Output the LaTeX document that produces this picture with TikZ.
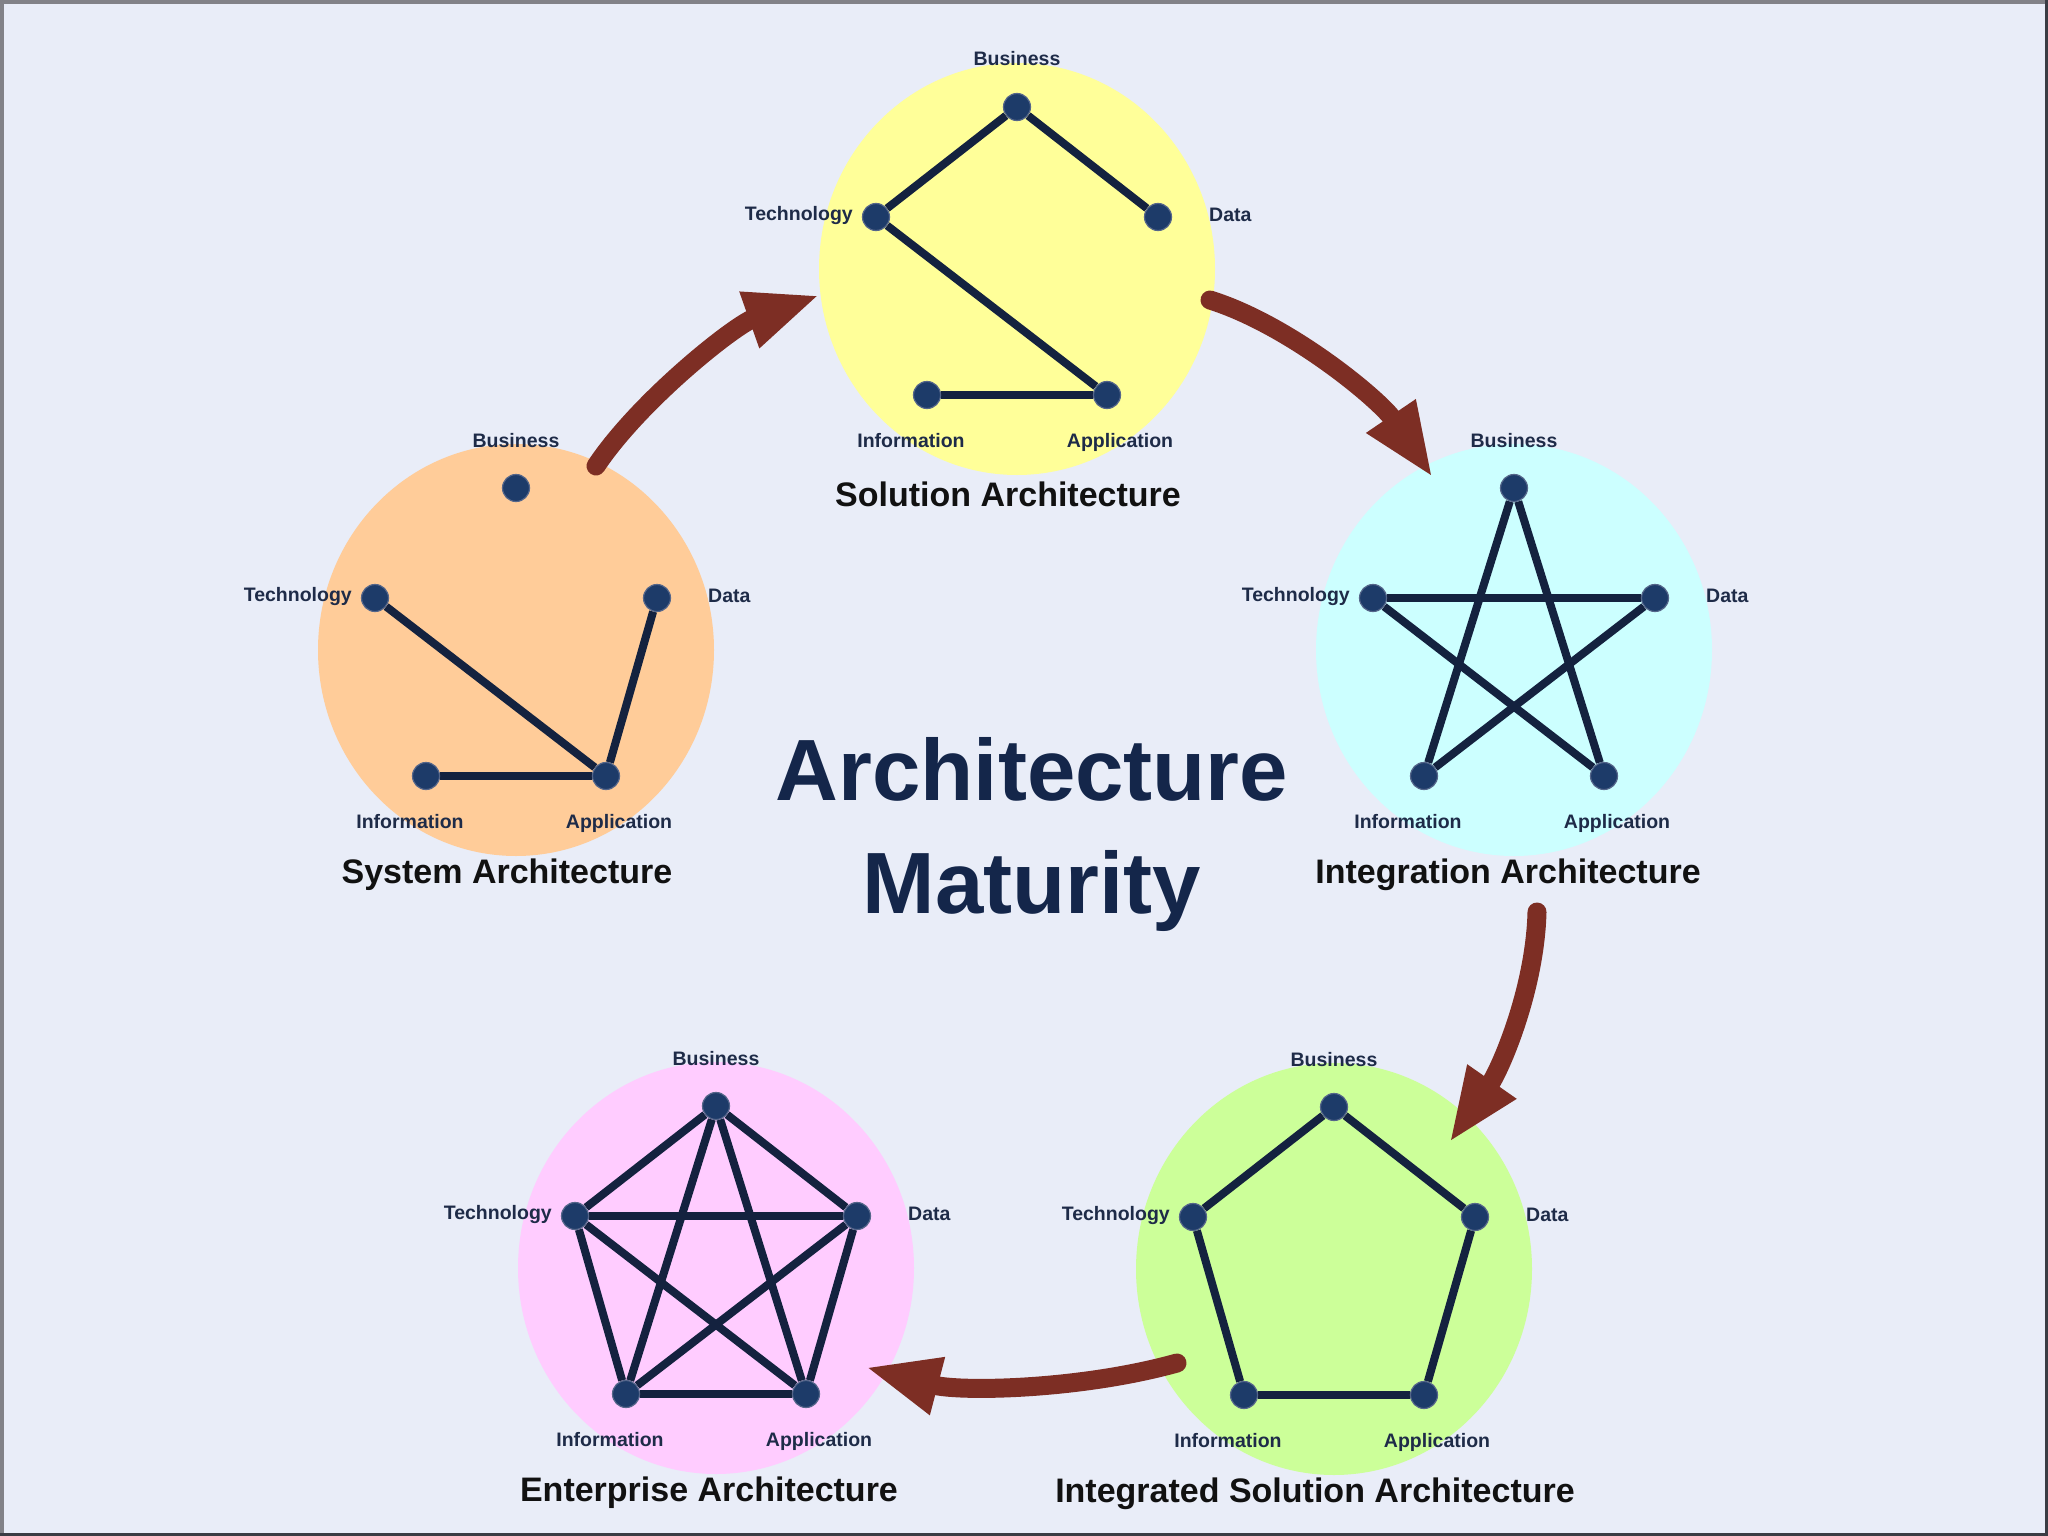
\documentclass[tikz,border=0pt]{standalone}
\usepackage{fontspec}
\setmainfont{Liberation Sans}
\usetikzlibrary{arrows.meta}
\definecolor{bgc}{HTML}{E9EDF8}
\definecolor{orangec}{HTML}{FFCC99}
\definecolor{yellowc}{HTML}{FFFF99}
\definecolor{cyanc}{HTML}{CCFFFF}
\definecolor{greenc}{HTML}{CCFF99}
\definecolor{pinkc}{HTML}{FFCCFF}
\definecolor{nodec}{HTML}{1D3B69}
\definecolor{ringc}{HTML}{55668A}
\definecolor{edgec}{HTML}{14223F}
\definecolor{lblc}{HTML}{1E2B48}
\definecolor{ttlc}{HTML}{111111}
\definecolor{mainc}{HTML}{14264A}
\definecolor{arrc}{HTML}{7D2E24}
\definecolor{frameA}{HTML}{828288}
\definecolor{frameB}{HTML}{3A3C44}
\pgfdeclarelayer{bg}
\pgfdeclarelayer{edges}
\pgfsetlayers{bg,edges,main}
\tikzset{
  dot/.style={circle, fill=nodec, draw=ringc, line width=1.2pt, minimum size=27pt, inner sep=0pt},
  lbl/.style={font=\bfseries\fontsize{19.5}{23}\selectfont, text=lblc, inner sep=0pt, anchor=base},
  ttl/.style={font=\bfseries\fontsize{34}{40}\selectfont, text=ttlc, inner sep=0pt},
  link/.style={draw=edgec, line width=8pt},
  flow/.style={draw=arrc, line width=19pt, line cap=round, -{Triangle[length=75pt,width=54pt]}},
  maintitle/.style={font=\bfseries\fontsize{87}{113}\selectfont, text=mainc, align=center, inner sep=0pt},
}
% #1 name, #2 bx, #3 by, #4 fill, #5 title, #6 title dx
\newcommand{\archcluster}[6]{%
  \begin{scope}[shift={(#2,#3)}]
    \begin{pgfonlayer}{bg}
      \fill[#4] (0,162) ellipse [x radius=198, y radius=206];
    \end{pgfonlayer}
    \node[dot] (#1-B) at (0,0) {};
    \node[dot] (#1-T) at (-141,110) {};
    \node[dot] (#1-D) at (141,110) {};
    \node[dot] (#1-I) at (-90,288) {};
    \node[dot] (#1-A) at (90,288) {};
    \node[lbl] (#1-Bl) at (0,-41) {Business};
    \node[lbl, anchor=base east] (#1-Tl) at (-164,113) {Technology};
    \node[lbl, anchor=base west] (#1-Dl) at (192,114) {Data};
    \node[lbl] (#1-Il) at (-106,340) {Information};
    \node[lbl] (#1-Al) at (103,340) {Application};
    \node[ttl] (#1-title) at (#6,387) {#5};
  \end{scope}}
\newcommand{\links}[2]{%
  \begin{pgfonlayer}{edges}
    \foreach \a/\b in {#2} {\draw[link] (#1-\a) -- (#1-\b);}
  \end{pgfonlayer}}
\begin{document}
\begin{tikzpicture}[x=1pt, y=-1pt]
  \useasboundingbox (0,0) rectangle (2048,1536);
  \begin{pgfonlayer}{bg}
    \fill[bgc] (0,0) rectangle (2048,1536);
  \end{pgfonlayer}
  \archcluster{sys}{516}{488}{orangec}{System Architecture}{-9}
  \archcluster{sol}{1017}{107}{yellowc}{Solution Architecture}{-9}
  \archcluster{int}{1514}{488}{cyanc}{Integration Architecture}{-6}
  \archcluster{isa}{1334}{1107}{greenc}{Integrated Solution Architecture}{-19}
  \archcluster{ent}{716}{1106}{pinkc}{Enterprise Architecture}{-7}
  \links{sys}{T/A, D/A, I/A}
  \links{sol}{B/T, B/D, T/A, I/A}
  \links{int}{B/I, B/A, T/D, T/A, D/I}
  \links{isa}{B/T, B/D, T/I, D/A, I/A}
  \links{ent}{B/T, B/D, T/I, D/A, I/A, B/I, B/A, T/D, T/A, D/I}
  \node[maintitle] (main) at (1032,834) {Architecture\\Maturity};
  % flow arrows
  \coordinate (a1s) at (596,466);  \coordinate (a1e) at (820,295);
  \coordinate (a2s) at (1210,300); \coordinate (a2e) at (1433,478);
  \coordinate (a3s) at (1537,912); \coordinate (a3e) at (1449,1143);
  \coordinate (a4s) at (1177,1363);\coordinate (a4e) at (865,1367);
  \draw[flow] (a1s) .. controls (640,400) and (735,325) .. (a1e);
  \draw[flow] (a2s) .. controls (1290,325) and (1380,400) .. (a2e);
  \draw[flow] (a3s) .. controls (1535,990) and (1500,1070) .. (a3e);
  \draw[flow] (a4s) .. controls (1080,1390) and (960,1392) .. (a4e);
  % frame
  \draw[frameA, line width=8pt] (0,1536) -- (0,0) -- (2048,0);
  \draw[frameB, line width=6pt] (2048,0) -- (2048,1536) -- (0,1536);
\end{tikzpicture}
\end{document}
